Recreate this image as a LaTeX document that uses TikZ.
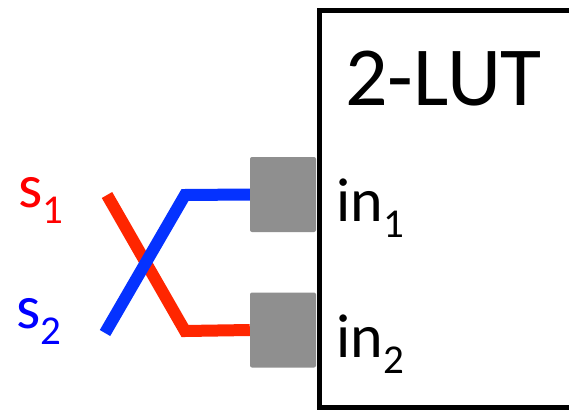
\documentclass[tikz,border=0pt]{standalone}
\usepackage{fontspec}
\setmainfont{Carlito}
\definecolor{wirered}{RGB}{255,38,0}
\definecolor{wireblue}{RGB}{5,50,255}
\definecolor{txtred}{RGB}{255,0,0}
\definecolor{txtblue}{RGB}{0,0,255}
\definecolor{portgray}{RGB}{143,143,143}
\newcommand{\subs}[1]{{\fontsize{41}{41}\selectfont\raisebox{-16pt}{#1}}}
\begin{document}
\begin{tikzpicture}[x=1pt,y=-1pt,
  port/.style={fill=portgray,rounded corners=2pt,minimum width=66pt,minimum height=75pt,inner sep=0pt,draw=none},
  lbl/.style={anchor=base west,inner sep=0pt,font=\fontsize{62}{62}\selectfont},
  wire/.style={line width=12pt}]
\useasboundingbox (0,0) rectangle (569,409);
\clip (0,0) rectangle (569,409);
\fill[white] (0,0) rectangle (569,409);
\node[draw,line width=5pt,minimum width=300pt,minimum height=397pt,anchor=north west,inner sep=0pt] (lut) at (317,8) {};
\node[lbl,font=\fontsize{84}{84}\selectfont] (title) at (345,106) {2-LUT};
\node[port] (p1) at (283,194.5) {};
\node[port] (p2) at (283,330) {};
\node[lbl] (in1) at (336,221) {in\subs{1}};
\node[lbl] (in2) at (336,357) {in\subs{2}};
\node[lbl,text=txtred] (s1) at (18,207) {s\subs{1}};
\node[lbl,text=txtblue] (s2) at (16,328) {s\subs{2}};
\coordinate (r0) at (107,195);
\coordinate (rb) at (185,331);
\coordinate (b0) at (105,333);
\coordinate (bb) at (185,195);
\draw[wire,wirered] (r0) -- (rb) -- (p2.west);
\draw[wire,wireblue] (b0) -- (bb) -- (p1.west);
\end{tikzpicture}
\end{document}
